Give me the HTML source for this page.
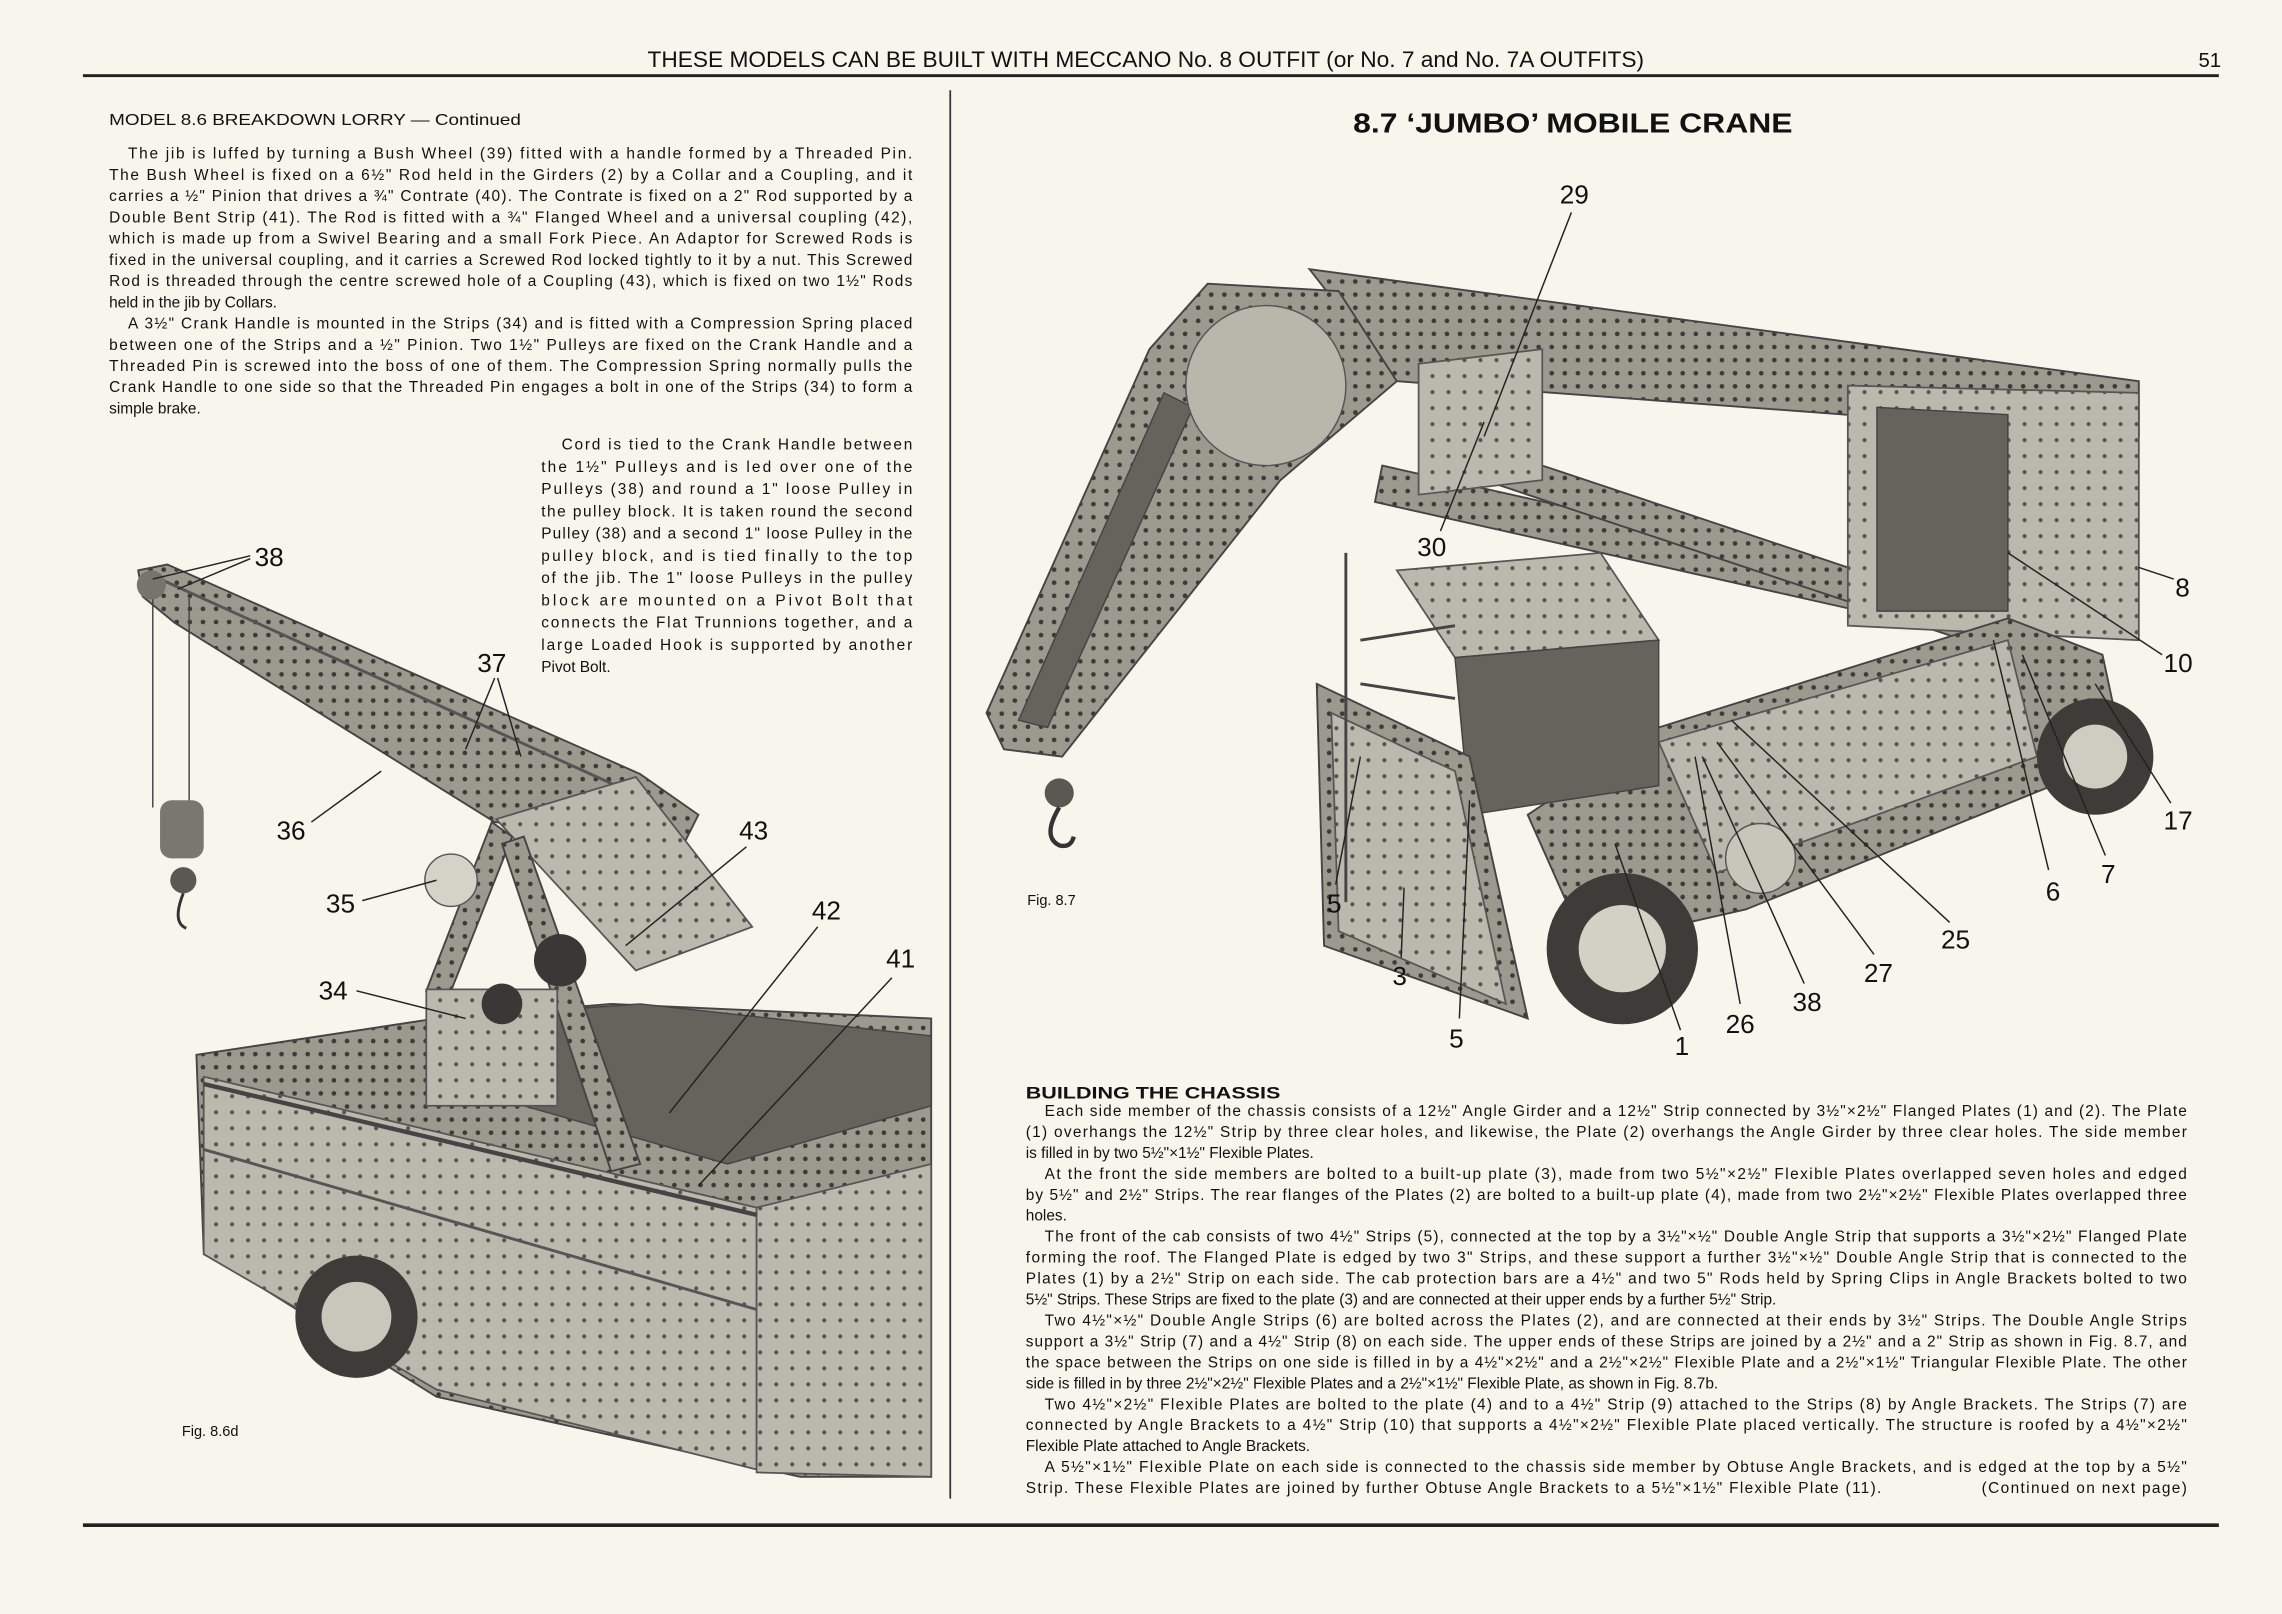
<!DOCTYPE html>
<html><head><meta charset="utf-8"><style>
html,body{margin:0;padding:0;background:#f7f5ec;}
svg{display:block}
text{font-family:"Liberation Sans",sans-serif;fill:#111}
.b{font-size:10.6px}
.n{font-size:18px;fill:#111}
.l{stroke:#222;stroke-width:1;fill:none}
.p{fill:url(#h1);stroke:#444;stroke-width:1.3}
.q{fill:url(#h2);stroke:#555;stroke-width:1.2}
.d{fill:#66635d;stroke:#444;stroke-width:1}
</style></head><body>
<svg width="2282" height="1614" viewBox="0 0 1568.4 1109.3" preserveAspectRatio="none">
<defs>
<pattern id="h1" width="9" height="9" patternUnits="userSpaceOnUse"><rect width="9" height="9" fill="#9c998f"/><circle cx="4.5" cy="4.5" r="1.6" fill="#3c3a36"/></pattern>
<pattern id="h2" width="11" height="11" patternUnits="userSpaceOnUse"><rect width="11" height="11" fill="#bbb8ae"/><circle cx="5.5" cy="5.5" r="1.4" fill="#55534e"/></pattern>
</defs>
<rect width="1568.4" height="1109.3" fill="#f7f5ec"/>
<!-- header -->
<text x="445" y="46" font-size="15" textLength="685" lengthAdjust="spacingAndGlyphs">THESE MODELS CAN BE BUILT WITH MECCANO No. 8 OUTFIT (or No. 7 and No. 7A OUTFITS)</text>
<text x="1511" y="46" font-size="14">51</text>
<rect x="57" y="51" width="1468" height="2" fill="#222"/>
<rect x="652.5" y="62" width="1.2" height="968" fill="#333"/>
<rect x="57" y="1047" width="1468" height="2.5" fill="#222"/>

<!-- left column text -->
<text x="75" y="86" font-size="11" textLength="283" lengthAdjust="spacingAndGlyphs">MODEL 8.6  BREAKDOWN LORRY — Continued</text>
<g class="b">
<text x="88" y="109" textLength="539" lengthAdjust="spacing">The jib is luffed by turning a Bush Wheel (39) fitted with a handle formed by a Threaded Pin.</text>
<text x="75" y="123.6" textLength="552" lengthAdjust="spacing">The Bush Wheel is fixed on a 6½" Rod held in the Girders (2) by a Collar and a Coupling, and it</text>
<text x="75" y="138.2" textLength="552" lengthAdjust="spacing">carries a ½" Pinion that drives a ¾" Contrate (40). The Contrate is fixed on a 2" Rod supported by a</text>
<text x="75" y="152.8" textLength="552" lengthAdjust="spacing">Double Bent Strip (41). The Rod is fitted with a ¾" Flanged Wheel and a universal coupling (42),</text>
<text x="75" y="167.4" textLength="552" lengthAdjust="spacing">which is made up from a Swivel Bearing and a small Fork Piece. An Adaptor for Screwed Rods is</text>
<text x="75" y="182" textLength="552" lengthAdjust="spacing">fixed in the universal coupling, and it carries a Screwed Rod locked tightly to it by a nut. This Screwed</text>
<text x="75" y="196.6" textLength="552" lengthAdjust="spacing">Rod is threaded through the centre screwed hole of a Coupling (43), which is fixed on two 1½" Rods</text>
<text x="75" y="211.2">held in the jib by Collars.</text>
<text x="88" y="225.8" textLength="539" lengthAdjust="spacing">A 3½" Crank Handle is mounted in the Strips (34) and is fitted with a Compression Spring placed</text>
<text x="75" y="240.4" textLength="552" lengthAdjust="spacing">between one of the Strips and a ½" Pinion. Two 1½" Pulleys are fixed on the Crank Handle and a</text>
<text x="75" y="255" textLength="552" lengthAdjust="spacing">Threaded Pin is screwed into the boss of one of them. The Compression Spring normally pulls the</text>
<text x="75" y="269.6" textLength="552" lengthAdjust="spacing">Crank Handle to one side so that the Threaded Pin engages a bolt in one of the Strips (34) to form a</text>
<text x="75" y="284.2">simple brake.</text>
<text x="386" y="309" textLength="241" lengthAdjust="spacing">Cord is tied to the Crank Handle between</text>
<text x="372" y="324.3" textLength="255" lengthAdjust="spacing">the 1½" Pulleys and is led over one of the</text>
<text x="372" y="339.6" textLength="255" lengthAdjust="spacing">Pulleys (38) and round a 1" loose Pulley in</text>
<text x="372" y="354.9" textLength="255" lengthAdjust="spacing">the pulley block. It is taken round the second</text>
<text x="372" y="370.2" textLength="255" lengthAdjust="spacing">Pulley (38) and a second 1" loose Pulley in the</text>
<text x="372" y="385.5" textLength="255" lengthAdjust="spacing">pulley block, and is tied finally to the top</text>
<text x="372" y="400.8" textLength="255" lengthAdjust="spacing">of the jib. The 1" loose Pulleys in the pulley</text>
<text x="372" y="416.1" textLength="255" lengthAdjust="spacing">block are mounted on a Pivot Bolt that</text>
<text x="372" y="431.4" textLength="255" lengthAdjust="spacing">connects the Flat Trunnions together, and a</text>
<text x="372" y="446.7" textLength="255" lengthAdjust="spacing">large Loaded Hook is supported by another</text>
<text x="372" y="462">Pivot Bolt.</text>
</g>

<!-- lorry picture -->
<g>
<polygon class="p" points="135,725 300,700 420,690 640,700 640,1015 550,1015 300,960 140,860"/>
<polygon class="q" points="140,740 520,830 520,1010 300,955 140,862"/>
<polygon class="d" points="300,700 440,690 640,712 640,760 500,800 360,760"/>
<polygon class="q" points="520,830 640,800 640,1015 520,1012"/>
<line x1="140" y1="790" x2="520" y2="900" stroke="#555" stroke-width="2"/>
<line x1="140" y1="745" x2="520" y2="835" stroke="#444" stroke-width="3"/>
<circle cx="245" cy="905" r="42" fill="#3e3c39"/>
<circle cx="245" cy="905" r="24" fill="#c9c6bc"/>
<polygon class="p" points="95,392 115,388 440,532 480,560 470,580 340,565 120,428 98,410"/>
<line x1="110" y1="398" x2="450" y2="552" stroke="#555" stroke-width="2"/>
<polygon class="q" points="341,563 437,534 517,637 437,667"/>
<polygon class="p" points="293,681 310,681 352,575 338,565"/>
<polygon class="p" points="345,580 360,575 440,800 420,805"/>
<rect x="293" y="680" width="90" height="80" class="q"/>
<circle cx="310" cy="605" r="18" fill="#d5d2c8" stroke="#555"/>
<circle cx="385" cy="660" r="18" fill="#3a3836"/>
<circle cx="345" cy="690" r="14" fill="#3a3836"/>
<line x1="105" y1="405" x2="105" y2="555" stroke="#444"/>
<line x1="130" y1="410" x2="130" y2="555" stroke="#444"/>
<rect x="110" y="550" width="30" height="40" rx="8" fill="#7a7770"/>
<circle cx="126" cy="605" r="9" fill="#5a5853"/>
<path d="M126 614 q-8 20 2 24" stroke="#333" stroke-width="2" fill="none"/>
<circle cx="104" cy="402" r="10" fill="#77746d"/>
</g>
<g class="n">
<text x="175" y="389">38</text><text x="328" y="462">37</text><text x="190" y="577">36</text>
<text x="508" y="577">43</text><text x="224" y="627">35</text><text x="558" y="632">42</text>
<text x="609" y="665">41</text><text x="219" y="687">34</text>
</g>
<g class="l">
<line x1="172" y1="382" x2="105" y2="398"/><line x1="172" y1="384" x2="122" y2="405"/>
<line x1="340" y1="466" x2="320" y2="515"/><line x1="342" y1="466" x2="358" y2="520"/>
<line x1="214" y1="565" x2="262" y2="530"/><line x1="249" y1="619" x2="300" y2="605"/>
<line x1="245" y1="681" x2="320" y2="700"/><line x1="513" y1="582" x2="430" y2="650"/>
<line x1="562" y1="637" x2="460" y2="765"/><line x1="613" y1="672" x2="480" y2="815"/>
</g>
<text x="125" y="987" font-size="10">Fig. 8.6d</text>

<!-- right title -->
<text x="930" y="91" font-size="19" font-weight="bold" textLength="302" lengthAdjust="spacingAndGlyphs">8.7  ‘JUMBO’ MOBILE CRANE</text>

<!-- crane picture -->
<g>
<polygon class="p" points="900,185 1470,262 1470,300 960,262"/>
<polygon class="p" points="950,320 1395,420 1390,445 945,345"/>
<polygon class="p" points="1000,300 1360,420 1350,440 990,320"/>
<polygon class="q" points="1270,265 1470,270 1470,440 1270,430"/>
<polygon class="d" points="1290,280 1380,285 1380,420 1290,420"/>
<polygon class="p" points="1050,560 1140,500 1380,425 1445,450 1460,520 1200,625 1090,650"/>
<polygon class="q" points="1140,510 1380,440 1400,520 1180,600"/>
<circle cx="1440" cy="520" r="40" fill="#3e3c39"/><circle cx="1440" cy="520" r="22" fill="#cfccc2"/>
<polygon class="p" points="678,490 690,515 730,520 880,330 960,262 920,200 830,195 790,240"/>
<polygon class="d" points="700,495 720,500 820,280 800,270"/>
<circle cx="870" cy="265" r="55" fill="#b9b6ac" stroke="#555"/>
<polygon class="q" points="975,250 1060,240 1060,330 975,340"/>
<polygon class="q" points="960,392 1100,380 1140,440 1000,452"/>
<polygon class="d" points="1000,452 1140,440 1140,540 1010,560"/>
<polygon class="p" points="905,470 1010,520 1050,700 910,650"/>
<polygon class="q" points="915,490 1000,530 1035,690 920,640"/>
<line x1="925" y1="380" x2="925" y2="620" stroke="#444" stroke-width="2"/>
<line x1="935" y1="440" x2="1000" y2="430" stroke="#444" stroke-width="2"/>
<line x1="935" y1="470" x2="1000" y2="480" stroke="#444" stroke-width="2"/>
<circle cx="1115" cy="652" r="52" fill="#3e3c39"/><circle cx="1115" cy="652" r="30" fill="#d3d0c6"/>
<circle cx="1210" cy="590" r="24" fill="#c8c5bb" stroke="#555"/>
<circle cx="728" cy="545" r="10" fill="#5a5853"/>
<path d="M728 555 q-12 20 0 26 q8 2 10 -6" stroke="#333" stroke-width="3" fill="none"/>
</g>
<g class="n">
<text x="1072" y="140">29</text><text x="974" y="382">30</text><text x="1495" y="410">8</text>
<text x="1487" y="462">10</text><text x="1487" y="570">17</text><text x="1444" y="607">7</text>
<text x="1406" y="619">6</text><text x="1334" y="652">25</text><text x="1281" y="675">27</text>
<text x="1232" y="695">38</text><text x="1186" y="710">26</text><text x="1151" y="725">1</text>
<text x="912" y="627">5</text><text x="957" y="677">3</text><text x="996" y="720">5</text>
</g>
<g class="l">
<line x1="1080" y1="146" x2="1020" y2="300"/><line x1="990" y1="365" x2="1020" y2="290"/>
<line x1="1494" y1="398" x2="1470" y2="390"/><line x1="1486" y1="450" x2="1380" y2="380"/>
<line x1="1492" y1="552" x2="1440" y2="470"/><line x1="1447" y1="588" x2="1390" y2="450"/>
<line x1="1408" y1="598" x2="1370" y2="440"/><line x1="1340" y1="634" x2="1190" y2="495"/>
<line x1="1288" y1="656" x2="1180" y2="510"/><line x1="1240" y1="676" x2="1170" y2="520"/>
<line x1="1196" y1="690" x2="1165" y2="520"/><line x1="1155" y1="708" x2="1110" y2="580"/>
<line x1="918" y1="608" x2="935" y2="520"/><line x1="963" y1="658" x2="965" y2="610"/>
<line x1="1003" y1="700" x2="1010" y2="550"/>
</g>
<text x="706" y="622" font-size="10">Fig. 8.7</text>

<!-- chassis text -->
<text x="705" y="755" font-size="11.5" font-weight="bold" textLength="175" lengthAdjust="spacingAndGlyphs">BUILDING THE CHASSIS</text>
<g class="b">
<text x="718" y="767" textLength="785" lengthAdjust="spacing">Each side member of the chassis consists of a 12½" Angle Girder and a 12½" Strip connected by 3½"×2½" Flanged Plates (1) and (2). The Plate</text>
<text x="705" y="781.4" textLength="798" lengthAdjust="spacing">(1) overhangs the 12½" Strip by three clear holes, and likewise, the Plate (2) overhangs the Angle Girder by three clear holes. The side member</text>
<text x="705" y="795.8">is filled in by two 5½"×1½" Flexible Plates.</text>
<text x="718" y="810.2" textLength="785" lengthAdjust="spacing">At the front the side members are bolted to a built-up plate (3), made from two 5½"×2½" Flexible Plates overlapped seven holes and edged</text>
<text x="705" y="824.6" textLength="798" lengthAdjust="spacing">by 5½" and 2½" Strips. The rear flanges of the Plates (2) are bolted to a built-up plate (4), made from two 2½"×2½" Flexible Plates overlapped three</text>
<text x="705" y="839">holes.</text>
<text x="718" y="853.4" textLength="785" lengthAdjust="spacing">The front of the cab consists of two 4½" Strips (5), connected at the top by a 3½"×½" Double Angle Strip that supports a 3½"×2½" Flanged Plate</text>
<text x="705" y="867.8" textLength="798" lengthAdjust="spacing">forming the roof. The Flanged Plate is edged by two 3" Strips, and these support a further 3½"×½" Double Angle Strip that is connected to the</text>
<text x="705" y="882.2" textLength="798" lengthAdjust="spacing">Plates (1) by a 2½" Strip on each side. The cab protection bars are a 4½" and two 5" Rods held by Spring Clips in Angle Brackets bolted to two</text>
<text x="705" y="896.6">5½" Strips. These Strips are fixed to the plate (3) and are connected at their upper ends by a further 5½" Strip.</text>
<text x="718" y="911" textLength="785" lengthAdjust="spacing">Two 4½"×½" Double Angle Strips (6) are bolted across the Plates (2), and are connected at their ends by 3½" Strips. The Double Angle Strips</text>
<text x="705" y="925.4" textLength="798" lengthAdjust="spacing">support a 3½" Strip (7) and a 4½" Strip (8) on each side. The upper ends of these Strips are joined by a 2½" and a 2" Strip as shown in Fig. 8.7, and</text>
<text x="705" y="939.8" textLength="798" lengthAdjust="spacing">the space between the Strips on one side is filled in by a 4½"×2½" and a 2½"×2½" Flexible Plate and a 2½"×1½" Triangular Flexible Plate. The other</text>
<text x="705" y="954.2">side is filled in by three 2½"×2½" Flexible Plates and a 2½"×1½" Flexible Plate, as shown in Fig. 8.7b.</text>
<text x="718" y="968.6" textLength="785" lengthAdjust="spacing">Two 4½"×2½" Flexible Plates are bolted to the plate (4) and to a 4½" Strip (9) attached to the Strips (8) by Angle Brackets. The Strips (7) are</text>
<text x="705" y="983" textLength="798" lengthAdjust="spacing">connected by Angle Brackets to a 4½" Strip (10) that supports a 4½"×2½" Flexible Plate placed vertically. The structure is roofed by a 4½"×2½"</text>
<text x="705" y="997.4">Flexible Plate attached to Angle Brackets.</text>
<text x="718" y="1011.8" textLength="785" lengthAdjust="spacing">A 5½"×1½" Flexible Plate on each side is connected to the chassis side member by Obtuse Angle Brackets, and is edged at the top by a 5½"</text>
<text x="705" y="1026.2" textLength="588" lengthAdjust="spacing">Strip. These Flexible Plates are joined by further Obtuse Angle Brackets to a 5½"×1½" Flexible Plate (11).</text>
<text x="1362" y="1026.2" textLength="141" lengthAdjust="spacing">(Continued on next page)</text>
</g>
</svg>
</body></html>
